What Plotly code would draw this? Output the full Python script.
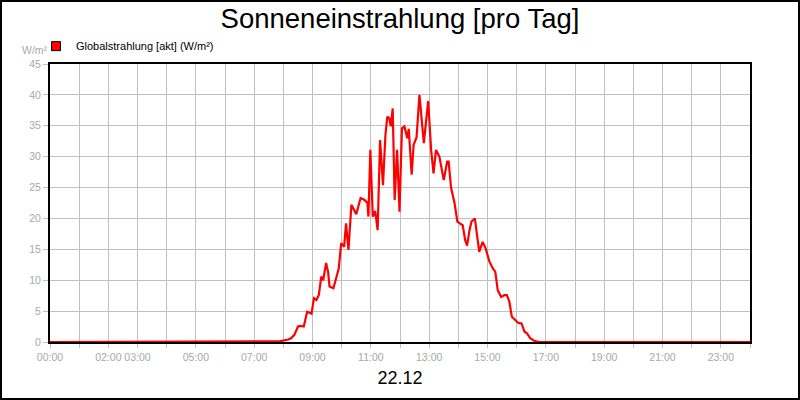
import plotly.graph_objects as go
import pandas as pd

DAY = "2023-12-22"
DAY_LABEL = "22.12"
TITLE = "Sonneneinstrahlung [pro Tag]"
SERIES_NAME = "Globalstrahlung [akt] (W/m²)"
UNIT = "W/m²"

times = [
    "00:00", "07:42", "07:52", "08:10", "08:16", "08:23", "08:30", "08:36", "08:42",
    "08:49", "08:58", "09:03", "09:08", "09:13", "09:18", "09:22", "09:28", "09:32",
    "09:35", "09:43", "09:49", "09:54", "09:59", "10:05", "10:09", "10:14", "10:20",
    "10:30", "10:39", "10:47", "10:53", "10:55", "10:59", "11:04", "11:09", "11:14",
    "11:19", "11:25", "11:30", "11:34", "11:38", "11:41", "11:45", "11:49", "11:54",
    "11:59", "12:04", "12:09", "12:15", "12:18", "12:24", "12:28", "12:34", "12:40",
    "12:49", "12:58", "13:04", "13:09", "13:14", "13:21", "13:30", "13:37", "13:40",
    "13:45", "13:52", "13:58", "14:03", "14:09", "14:14", "14:18", "14:23", "14:27",
    "14:34", "14:39", "14:43", "14:50", "14:56", "15:04", "15:11", "15:16", "15:21",
    "15:28", "15:35", "15:40", "15:45", "15:50", "15:57", "16:03", "16:10", "16:16",
    "16:21", "16:28", "16:36", "16:46", "24:00",
]
values = [
    0, 0, 0.1, 0.4, 0.6, 1.2, 2.5, 2.6, 2.5,
    4.9, 4.6, 7.1, 6.8, 7.6, 10.6, 10.0, 12.8, 11.4,
    9.0, 8.7, 10.3, 11.9, 16.0, 15.4, 19.2, 14.9, 22.2,
    20.7, 23.3, 23.0, 22.5, 20.3, 31.1, 20.3, 21.2, 18.1,
    32.7, 25.4, 33.5, 36.5, 36.2, 34.9, 37.8, 23.0, 31.1,
    21.1, 34.6, 34.9, 33.0, 34.5, 27.1, 31.9, 33.1, 40.0,
    32.2, 39.0, 31.1, 27.3, 31.1, 30.0, 26.2, 29.2, 29.2,
    25.0, 22.6, 19.5, 19.2, 18.9, 16.5, 15.6, 18.1, 19.5,
    20.0, 17.3, 14.6, 16.2, 15.2, 13.0, 11.9, 11.4, 8.4,
    7.3, 7.6, 7.6, 6.5, 4.1, 3.6, 3.1, 3.0, 1.7,
    1.4, 0.6, 0.2, 0, 0,
]

hours = list(range(25))
labeled_hours = [0, 2, 3, 5, 7, 9, 11, 13, 15, 17, 19, 21, 23]

day0 = pd.Timestamp(DAY)
x = [day0 + pd.to_timedelta(t + ":00") for t in times]
tickvals = [day0 + pd.Timedelta(hours=h) for h in hours]
ticktext = [f"{h:02d}:00" if h in labeled_hours else "" for h in hours]

GRID = "#c0c0c0"
TICKTXT = "#a8a8a8"
FONT = "Liberation Sans, Arial, sans-serif"

fig = go.Figure()
fig.add_trace(go.Scatter(
    x=x, y=values, mode="lines", name=SERIES_NAME,
    line=dict(color="#ff0000", width=2.2), showlegend=False,
))
fig.add_trace(go.Scatter(
    x=[None], y=[None], mode="markers", name=SERIES_NAME,
    marker=dict(symbol="square", size=9, color="#ff0000",
                line=dict(color="#000000", width=1)),
    showlegend=True,
))

fig.update_layout(
    width=800, height=400,
    margin=dict(l=50, r=50, t=64, b=58, autoexpand=False),
    paper_bgcolor="white", plot_bgcolor="white",
    font=dict(family=FONT, color="black"),
    title=dict(text=TITLE, x=0.5, xanchor="center", xref="paper",
               y=0.955, yanchor="middle", yref="container",
               font=dict(size=27.5, color="black")),
    legend=dict(orientation="h", x=-14 / 700, xanchor="left", y=1.012, yanchor="bottom",
                font=dict(size=11, color="black"), bgcolor="rgba(0,0,0,0)",
                itemwidth=30),
    xaxis=dict(
        type="date", range=[tickvals[0], tickvals[-1]], automargin=False,
        tickmode="array", tickvals=tickvals, ticktext=ticktext,
        ticks="outside", ticklen=4, tickcolor=GRID, tickwidth=1,
        tickfont=dict(size=10.5, color=TICKTXT),
        showgrid=True, gridcolor=GRID, gridwidth=1,
        showline=True, linecolor="black", linewidth=2, mirror=True,
        zeroline=False,
        title=dict(text=DAY_LABEL, font=dict(size=18, color="black"), standoff=10),
    ),
    yaxis=dict(
        range=[0, 45], tick0=0, dtick=5, automargin=False,
        ticks="outside", ticklen=5, tickcolor=GRID, tickwidth=1,
        tickfont=dict(size=10.5, color=TICKTXT),
        showgrid=True, gridcolor=GRID, gridwidth=1,
        showline=True, linecolor="black", linewidth=2, mirror=True,
        zeroline=False,
    ),
    annotations=[dict(
        text=UNIT, xref="paper", yref="paper", x=-15 / 700, y=1.05,
        xanchor="center", yanchor="middle", showarrow=False,
        font=dict(size=10.5, color=TICKTXT),
    )],
    shapes=[dict(
        type="rect", xref="paper", yref="paper",
        x0=-49 / 700, x1=749 / 700, y0=-57 / 278, y1=341 / 278,
        line=dict(color="black", width=2), fillcolor="rgba(0,0,0,0)", layer="above",
    )],
)

fig.write_html("out.html", config={"displayModeBar": False},
               post_script="document.body.style.margin='0';")
